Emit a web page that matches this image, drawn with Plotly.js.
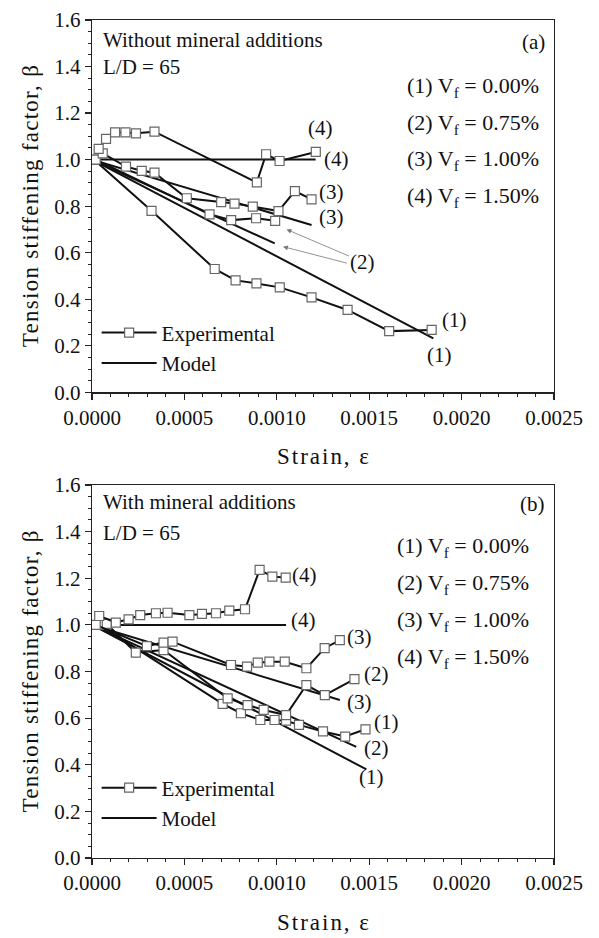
<!DOCTYPE html>
<html><head><meta charset="utf-8">
<script src="https://cdn.plot.ly/plotly-3.0.1.min.js"></script>
<style>html,body{margin:0;padding:0;background:#fff}</style>
</head><body><div id="chart" style="width:599px;height:938px"></div>
<script>
// ---------- Panel (a): without mineral additions ----------
const a_exp1_x = [0.00001, 0.000322, 0.000664, 0.000777, 0.00089, 0.001016, 0.001188, 0.001383, 0.001608, 0.001838];
const a_exp1_y = [1.00, 0.780, 0.530, 0.481, 0.468, 0.451, 0.408, 0.354, 0.263, 0.268];
const a_exp2_x = [0.00002, 0.000636, 0.000753, 0.000888, 0.000991];
const a_exp2_y = [1.00, 0.765, 0.740, 0.748, 0.737];
const a_exp3_x = [0.000058, 0.000184, 0.000269, 0.000338, 0.000513, 0.000699, 0.000771, 0.00087, 0.001009, 0.001098, 0.001188];
const a_exp3_y = [1.027, 0.970, 0.952, 0.944, 0.834, 0.817, 0.811, 0.798, 0.779, 0.865, 0.829];
const a_exp4_x = [0.000036, 0.000076, 0.000125, 0.000181, 0.000238, 0.000338, 0.000892, 0.000942, 0.001015, 0.001211];
const a_exp4_y = [1.046, 1.089, 1.117, 1.117, 1.113, 1.120, 0.902, 1.023, 0.994, 1.033];
const a_mod1_x = [0, 0.001847]; const a_mod1_y = [1.0, 0.232];
const a_mod2_x = [0, 0.000989]; const a_mod2_y = [1.0, 0.640];
const a_mod3_x = [0, 0.001188]; const a_mod3_y = [1.0, 0.719];
const a_mod4_x = [0, 0.00121];  const a_mod4_y = [1.0, 1.0];

// ---------- Panel (b): with mineral additions ----------
const b_exp1_x = [0.00004, 0.000707, 0.000806, 0.000911, 0.000988, 0.00105, 0.00112, 0.00125, 0.00137, 0.00148];
const b_exp1_y = [1.00, 0.661, 0.621, 0.592, 0.592, 0.589, 0.571, 0.543, 0.521, 0.552];
const b_exp2_x = [0.00008, 0.000237, 0.000387, 0.000734, 0.000842, 0.000929, 0.00105, 0.00116, 0.00126, 0.00142];
const b_exp2_y = [1.004, 0.881, 0.892, 0.685, 0.656, 0.635, 0.613, 0.742, 0.699, 0.767];
const b_exp3_x = [0.00002, 0.000297, 0.000387, 0.000436, 0.000752, 0.000839, 0.000897, 0.00096, 0.001043, 0.00116, 0.001259, 0.001341];
const b_exp3_y = [1.00, 0.909, 0.924, 0.928, 0.828, 0.821, 0.838, 0.842, 0.842, 0.814, 0.900, 0.935];
const b_exp4_x = [0.000039, 0.000129, 0.000198, 0.000261, 0.000346, 0.000409, 0.000527, 0.000595, 0.000671, 0.000743, 0.000828, 0.000907, 0.000976, 0.001048];
const b_exp4_y = [1.038, 1.010, 1.024, 1.042, 1.050, 1.052, 1.042, 1.047, 1.050, 1.061, 1.067, 1.236, 1.207, 1.203];
const b_mod1_x = [0, 0.001485]; const b_mod1_y = [1.0, 0.380];
const b_mod2_x = [0, 0.00143];  const b_mod2_y = [1.0, 0.477];
const b_mod3_x = [0, 0.001341]; const b_mod3_y = [1.0, 0.678];
const b_mod4_x = [0, 0.00105];  const b_mod4_y = [1.0, 1.0];

const vfLabels = ['(1) V<sub>f</sub> = 0.00%', '(2) V<sub>f</sub> = 0.75%', '(3) V<sub>f</sub> = 1.00%', '(4) V<sub>f</sub> = 1.50%'];
const xTicks = [0, 0.0005, 0.001, 0.0015, 0.002, 0.0025];
const yTicks = [0, 0.2, 0.4, 0.6, 0.8, 1.0, 1.2, 1.4, 1.6];

const FONT = 'Liberation Serif, Times New Roman, serif';
const INK = '#111';

function model(x, y, xa, ya, legendName, lg) {
  return {x: x, y: y, xaxis: xa, yaxis: ya, type: 'scatter', mode: 'lines',
    line: {color: INK, width: 2}, name: legendName || 'Model',
    showlegend: !!legendName, legend: lg, legendrank: 2, hoverinfo: 'skip'};
}
function exp(x, y, xa, ya, legendName, lg) {
  return {x: x, y: y, xaxis: xa, yaxis: ya, type: 'scatter', mode: 'lines+markers',
    line: {color: INK, width: 2},
    marker: {symbol: 'square', size: 9, color: '#fff', line: {color: '#666', width: 1.2}},
    name: legendName || 'Experimental', showlegend: !!legendName, legend: lg, legendrank: 1, hoverinfo: 'skip'};
}

const traces = [
  model(a_mod1_x, a_mod1_y, 'x', 'y', 'Model', 'legend'),
  model(a_mod2_x, a_mod2_y, 'x', 'y'),
  model(a_mod3_x, a_mod3_y, 'x', 'y'),
  model(a_mod4_x, a_mod4_y, 'x', 'y'),
  exp(a_exp1_x, a_exp1_y, 'x', 'y', 'Experimental', 'legend'),
  exp(a_exp2_x, a_exp2_y, 'x', 'y'),
  exp(a_exp3_x, a_exp3_y, 'x', 'y'),
  exp(a_exp4_x, a_exp4_y, 'x', 'y'),
  model(b_mod1_x, b_mod1_y, 'x2', 'y2', 'Model', 'legend2'),
  model(b_mod2_x, b_mod2_y, 'x2', 'y2'),
  model(b_mod3_x, b_mod3_y, 'x2', 'y2'),
  model(b_mod4_x, b_mod4_y, 'x2', 'y2'),
  exp(b_exp1_x, b_exp1_y, 'x2', 'y2', 'Experimental', 'legend2'),
  exp(b_exp2_x, b_exp2_y, 'x2', 'y2'),
  exp(b_exp3_x, b_exp3_y, 'x2', 'y2'),
  exp(b_exp4_x, b_exp4_y, 'x2', 'y2')
];

function xAxis(anchor) {
  return {anchor: anchor, domain: [0, 1], range: [0, 0.0025], tickvals: xTicks, tickformat: '.4f',
    showline: true, mirror: true, linecolor: '#222', linewidth: 1.2,
    ticks: 'outside', ticklen: 6, tickwidth: 1.2, tickcolor: '#222',
    minor: {ticks: 'outside', ticklen: 3, dtick: 0.0001, tickcolor: '#222', tickwidth: 1},
    showgrid: false, zeroline: false,
    tickfont: {family: FONT, size: 21, color: INK},
    title: {text: 'Strain, ε', font: {family: FONT, size: 23, color: INK}, standoff: 19}};
}
function yAxis(anchor, dom) {
  return {anchor: anchor, domain: dom, range: [0, 1.6], tickvals: yTicks, tickformat: '.1f',
    showline: true, mirror: true, linecolor: '#222', linewidth: 1.2,
    ticks: 'outside', ticklen: 6, tickwidth: 1.2, tickcolor: '#222',
    minor: {ticks: 'outside', ticklen: 3, dtick: 0.05, tickcolor: '#222', tickwidth: 1},
    showgrid: false, zeroline: false,
    tickfont: {family: FONT, size: 21, color: INK},
    title: {text: 'Tension stiffening factor, β', font: {family: FONT, size: 23, color: INK}, standoff: 9}};
}

function txt(xr, yr, x, y, text, opts) {
  return Object.assign({xref: xr, yref: yr, x: x, y: y, text: text, showarrow: false,
    font: {family: FONT, size: 21, color: INK}, xanchor: 'center', yanchor: 'middle'}, opts || {});
}
const ARROW = {showarrow: true, arrowhead: 2, arrowsize: 1.2, arrowwidth: 0.8, arrowcolor: '#777', standoff: 0, startstandoff: 0};

const annA = [
  txt('x', 'y', 0.00005, 1.514, 'Without mineral additions', {xanchor: 'left'}),
  txt('x', 'y', 0.00005, 1.398, 'L/D = 65', {xanchor: 'left'}),
  txt('x', 'y', 0.00246, 1.505, '(a)', {xanchor: 'right'}),
  txt('x', 'y', 0.001693, 1.313, vfLabels[0], {xanchor: 'left', font: {family: FONT, size: 22, color: INK}}),
  txt('x', 'y', 0.001693, 1.155, vfLabels[1], {xanchor: 'left', font: {family: FONT, size: 22, color: INK}}),
  txt('x', 'y', 0.001693, 0.998, vfLabels[2], {xanchor: 'left', font: {family: FONT, size: 22, color: INK}}),
  txt('x', 'y', 0.001693, 0.840, vfLabels[3], {xanchor: 'left', font: {family: FONT, size: 22, color: INK}}),
  txt('x', 'y', 0.001234, 1.136, '(4)'),
  txt('x', 'y', 0.001325, 1.002, '(4)'),
  txt('x', 'y', 0.001297, 0.862, '(3)'),
  txt('x', 'y', 0.001297, 0.752, '(3)'),
  Object.assign(txt('x', 'y', 0.001053, 0.700, '(2)'), ARROW, {axref: 'x', ayref: 'y', ax: 0.001466, ay: 0.560}),
  Object.assign({xref: 'x', yref: 'y', axref: 'x', ayref: 'y', x: 0.001034, y: 0.626, ax: 0.00139, ay: 0.553, text: ' ',
    font: {family: FONT, size: 4, color: INK}}, ARROW),
  txt('x', 'y', 0.001964, 0.311, '(1)'),
  txt('x', 'y', 0.001883, 0.160, '(1)')
];
const annB = [
  txt('x2', 'y2', 0.00005, 1.527, 'With mineral additions', {xanchor: 'left'}),
  txt('x2', 'y2', 0.00005, 1.394, 'L/D = 65', {xanchor: 'left'}),
  txt('x2', 'y2', 0.00246, 1.52, '(b)', {xanchor: 'right'}),
  txt('x2', 'y2', 0.00164, 1.333, vfLabels[0], {xanchor: 'left', font: {family: FONT, size: 22, color: INK}}),
  txt('x2', 'y2', 0.00164, 1.175, vfLabels[1], {xanchor: 'left', font: {family: FONT, size: 22, color: INK}}),
  txt('x2', 'y2', 0.00164, 1.016, vfLabels[2], {xanchor: 'left', font: {family: FONT, size: 22, color: INK}}),
  txt('x2', 'y2', 0.00164, 0.858, vfLabels[3], {xanchor: 'left', font: {family: FONT, size: 22, color: INK}}),
  txt('x2', 'y2', 0.001151, 1.214, '(4)'),
  txt('x2', 'y2', 0.001142, 1.021, '(4)'),
  txt('x2', 'y2', 0.001449, 0.947, '(3)'),
  txt('x2', 'y2', 0.001449, 0.671, '(3)'),
  txt('x2', 'y2', 0.001539, 0.788, '(2)'),
  txt('x2', 'y2', 0.001539, 0.471, '(2)'),
  txt('x2', 'y2', 0.001594, 0.585, '(1)'),
  txt('x2', 'y2', 0.001512, 0.349, '(1)')
];

const legendStyle = {xanchor: 'left', yanchor: 'top', bgcolor: 'rgba(0,0,0,0)', borderwidth: 0,
  font: {family: FONT, size: 21, color: INK}, itemwidth: 55, tracegroupgap: 0, itemclick: false};

const layout = {
  width: 599, height: 938,
  margin: {l: 92, r: 45, t: 20, b: 80},
  paper_bgcolor: '#fff', plot_bgcolor: '#fff',
  font: {family: FONT, color: INK},
  xaxis: xAxis('y'), yaxis: yAxis('x', [0.5557, 1]),
  xaxis2: xAxis('y2'), yaxis2: yAxis('x2', [0, 0.4451]),
  legend: Object.assign({x: 0.01, y: 0.651}, legendStyle),
  legend2: Object.assign({x: 0.01, y: 0.108}, legendStyle),
  annotations: annA.concat(annB),
  showlegend: true
};

Plotly.newPlot('chart', traces, layout, {staticPlot: true, displayModeBar: false}).then(function (gd) {
  // the original figure sets its axis titles with wide letter spacing
  gd.querySelectorAll('text.ytitle, text.y2title').forEach(function (t) {
    t.setAttribute('textLength', '282');
    t.setAttribute('lengthAdjust', 'spacing');
  });
  gd.querySelectorAll('text.xtitle, text.x2title').forEach(function (t) {
    t.setAttribute('textLength', '92');
    t.setAttribute('lengthAdjust', 'spacing');
  });
});
</script></body></html>
